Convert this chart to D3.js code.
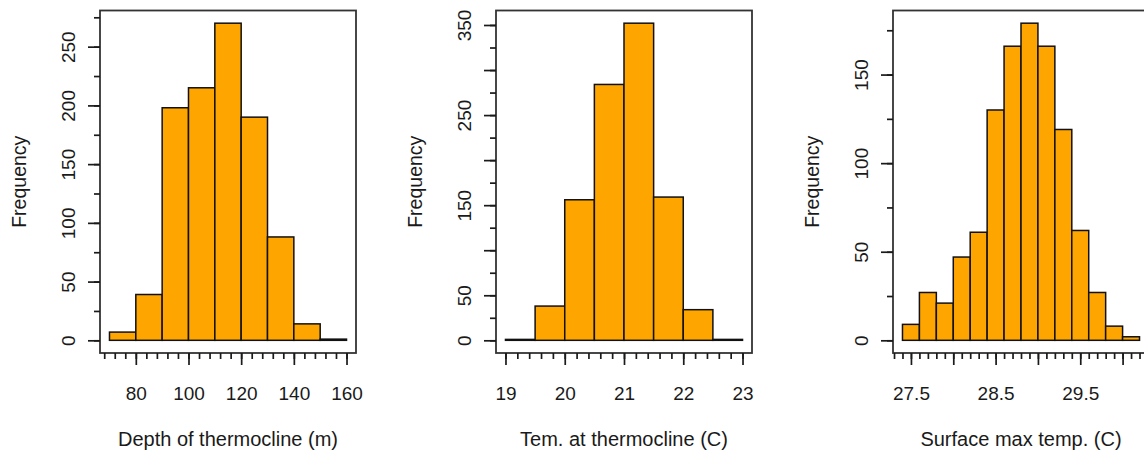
<!DOCTYPE html>
<html>
<head>
<meta charset="utf-8">
<script src="https://cdn.jsdelivr.net/npm/d3@7"></script>
<style>
  body { margin: 0; background: #fff; }
  text { font-family: "Liberation Sans", Arial, sans-serif; fill: #1a1a1a; }
</style>
</head>
<body>
<div id="main"></div>
<script>
var width = 1144;
var height = 452;

// bin edges and counts
var depthBins = [70, 80, 90, 100, 110, 120, 130, 140, 150, 160];
var depthCounts = [7, 39, 198, 215, 270, 190, 88, 14, 1];
var depthXLabels = [80, 100, 120, 140, 160];
var depthYLabels = [0, 50, 100, 150, 200, 250];

var temBins = [19, 19.5, 20, 20.5, 21, 21.5, 22, 22.5, 23];
var temCounts = [1, 38, 156, 284, 352, 159, 34, 1];
var temXLabels = [19, 20, 21, 22, 23];
var temYLabels = [0, 50, 150, 250, 350];

var surfBins = [27.4, 27.6, 27.8, 28.0, 28.2, 28.4, 28.6, 28.8, 29.0, 29.2, 29.4, 29.6, 29.8, 30.0, 30.2];
var surfCounts = [9, 27, 21, 47, 61, 130, 166, 179, 166, 119, 62, 27, 8, 2];
var surfXLabels = [27.5, 28.5, 29.5];
var surfYLabels = [0, 50, 100, 150];

var titles = ["Depth of thermocline (m)", "Tem. at thermocline (C)", "Surface max temp. (C)"];

var PW = 256, PH = 342.5, TOP = 10.5;
var LEFTS = [100, 496, 893];

var panels = [
  {bins: depthBins, counts: depthCounts, xl: depthXLabels, yl: depthYLabels,
   xMajor: 20, xMinor: 4, yMajor: 50, yMinor: 25, fmt: d3.format("d")},
  {bins: temBins, counts: temCounts, xl: temXLabels, yl: temYLabels,
   xMajor: 1, xMinor: 0.2, yMajor: 50, yMinor: 25, fmt: d3.format("d")},
  {bins: surfBins, counts: surfCounts, xl: surfXLabels, yl: surfYLabels,
   xMajor: 0.5, xMinor: 0.1, yMajor: 50, yMinor: 25, fmt: d3.format(".1f")}
];

var svg = d3.select("#main").append("svg")
  .attr("width", width)
  .attr("height", height);

function stepTicks(lo, hi, anchor, step){
  // ticks on a regular grid through anchor, inside [lo, hi]
  var k0 = Math.ceil((lo - anchor) / step - 1e-9);
  var k1 = Math.floor((hi - anchor) / step + 1e-9);
  var out = [];
  for (var k = k0; k <= k1; k++) out.push(+(anchor + k * step).toFixed(6));
  return out;
}

panels.forEach(function(p, i){
  var b0 = p.bins[0], b1 = p.bins[p.bins.length - 1];
  var pad = 0.04 * (b1 - b0);
  var M = d3.max(p.counts);
  var x = d3.scaleLinear().domain([b0 - pad, b1 + pad]).range([0, PW]);
  var y = d3.scaleLinear().domain([-0.04 * M, 1.04 * M]).range([PH, 0]);

  var g = svg.append("g").attr("transform", "translate(" + LEFTS[i] + "," + TOP + ")");

  var bars = p.counts.map(function(c, j){ return {x0: p.bins[j], x1: p.bins[j + 1], n: c}; });
  g.selectAll(".bar").data(bars).enter().append("rect")
    .attr("class", "bar")
    .attr("x", function(d){ return x(d.x0); })
    .attr("width", function(d){ return x(d.x1) - x(d.x0); })
    .attr("y", function(d){ return y(d.n); })
    .attr("height", function(d){ return y(0) - y(d.n); })
    .attr("fill", "#FFA500")
    .attr("stroke", "#111")
    .attr("stroke-width", 1.5);

  // frame
  g.append("rect").attr("x", 0).attr("y", 0).attr("width", PW).attr("height", PH)
    .attr("fill", "none").attr("stroke", "#333").attr("stroke-width", 1.8);

  var xd = x.domain(), yd = y.domain();
  var xMinorT = stepTicks(xd[0], xd[1], p.xl[0], p.xMinor);
  var xMajorT = stepTicks(xd[0], xd[1], p.xl[0], p.xMajor);
  var yMinorT = stepTicks(yd[0], yd[1], 0, p.yMinor);
  var yMajorT = stepTicks(yd[0], yd[1], 0, p.yMajor);

  function style(sel){
    sel.select(".domain").remove();
    sel.selectAll(".tick line").attr("stroke", "#1a1a1a").attr("stroke-width", 1.7);
    sel.selectAll("text").style("font-size", "19px").attr("fill", "#1a1a1a");
  }

  g.append("g").attr("transform", "translate(0," + PH + ")")
    .call(d3.axisBottom(x).tickValues(xMinorT).tickSize(6).tickFormat(""))
    .call(style);
  g.append("g").attr("transform", "translate(0," + PH + ")")
    .call(d3.axisBottom(x).tickValues(xMajorT).tickSize(12).tickPadding(21)
      .tickFormat(function(v){ return p.xl.some(function(l){ return Math.abs(l - v) < 1e-6; }) ? p.fmt(v) : ""; }))
    .call(style)
    .selectAll("text").attr("dy", "0.72em");

  g.append("g")
    .call(d3.axisLeft(y).tickValues(yMinorT).tickSize(6).tickFormat(""))
    .call(style);
  var ya = g.append("g")
    .call(d3.axisLeft(y).tickValues(yMajorT).tickSize(12)
      .tickFormat(function(v){ return p.yl.indexOf(v) >= 0 ? d3.format("d")(v) : ""; }))
    .call(style);
  ya.selectAll(".tick text")
    .attr("x", null).attr("dy", null)
    .attr("text-anchor", "middle")
    .attr("transform", "translate(-25,0) rotate(-90)");

  // axis titles
  g.append("text")
    .attr("x", PW / 2).attr("y", PH + 93)
    .attr("text-anchor", "middle")
    .style("font-size", "20px")
    .text(titles[i]);
  g.append("text")
    .attr("transform", "translate(-74," + (PH / 2) + ") rotate(-90)")
    .attr("text-anchor", "middle")
    .style("font-size", "19.5px")
    .text("Frequency");
});
</script>
</body>
</html>
